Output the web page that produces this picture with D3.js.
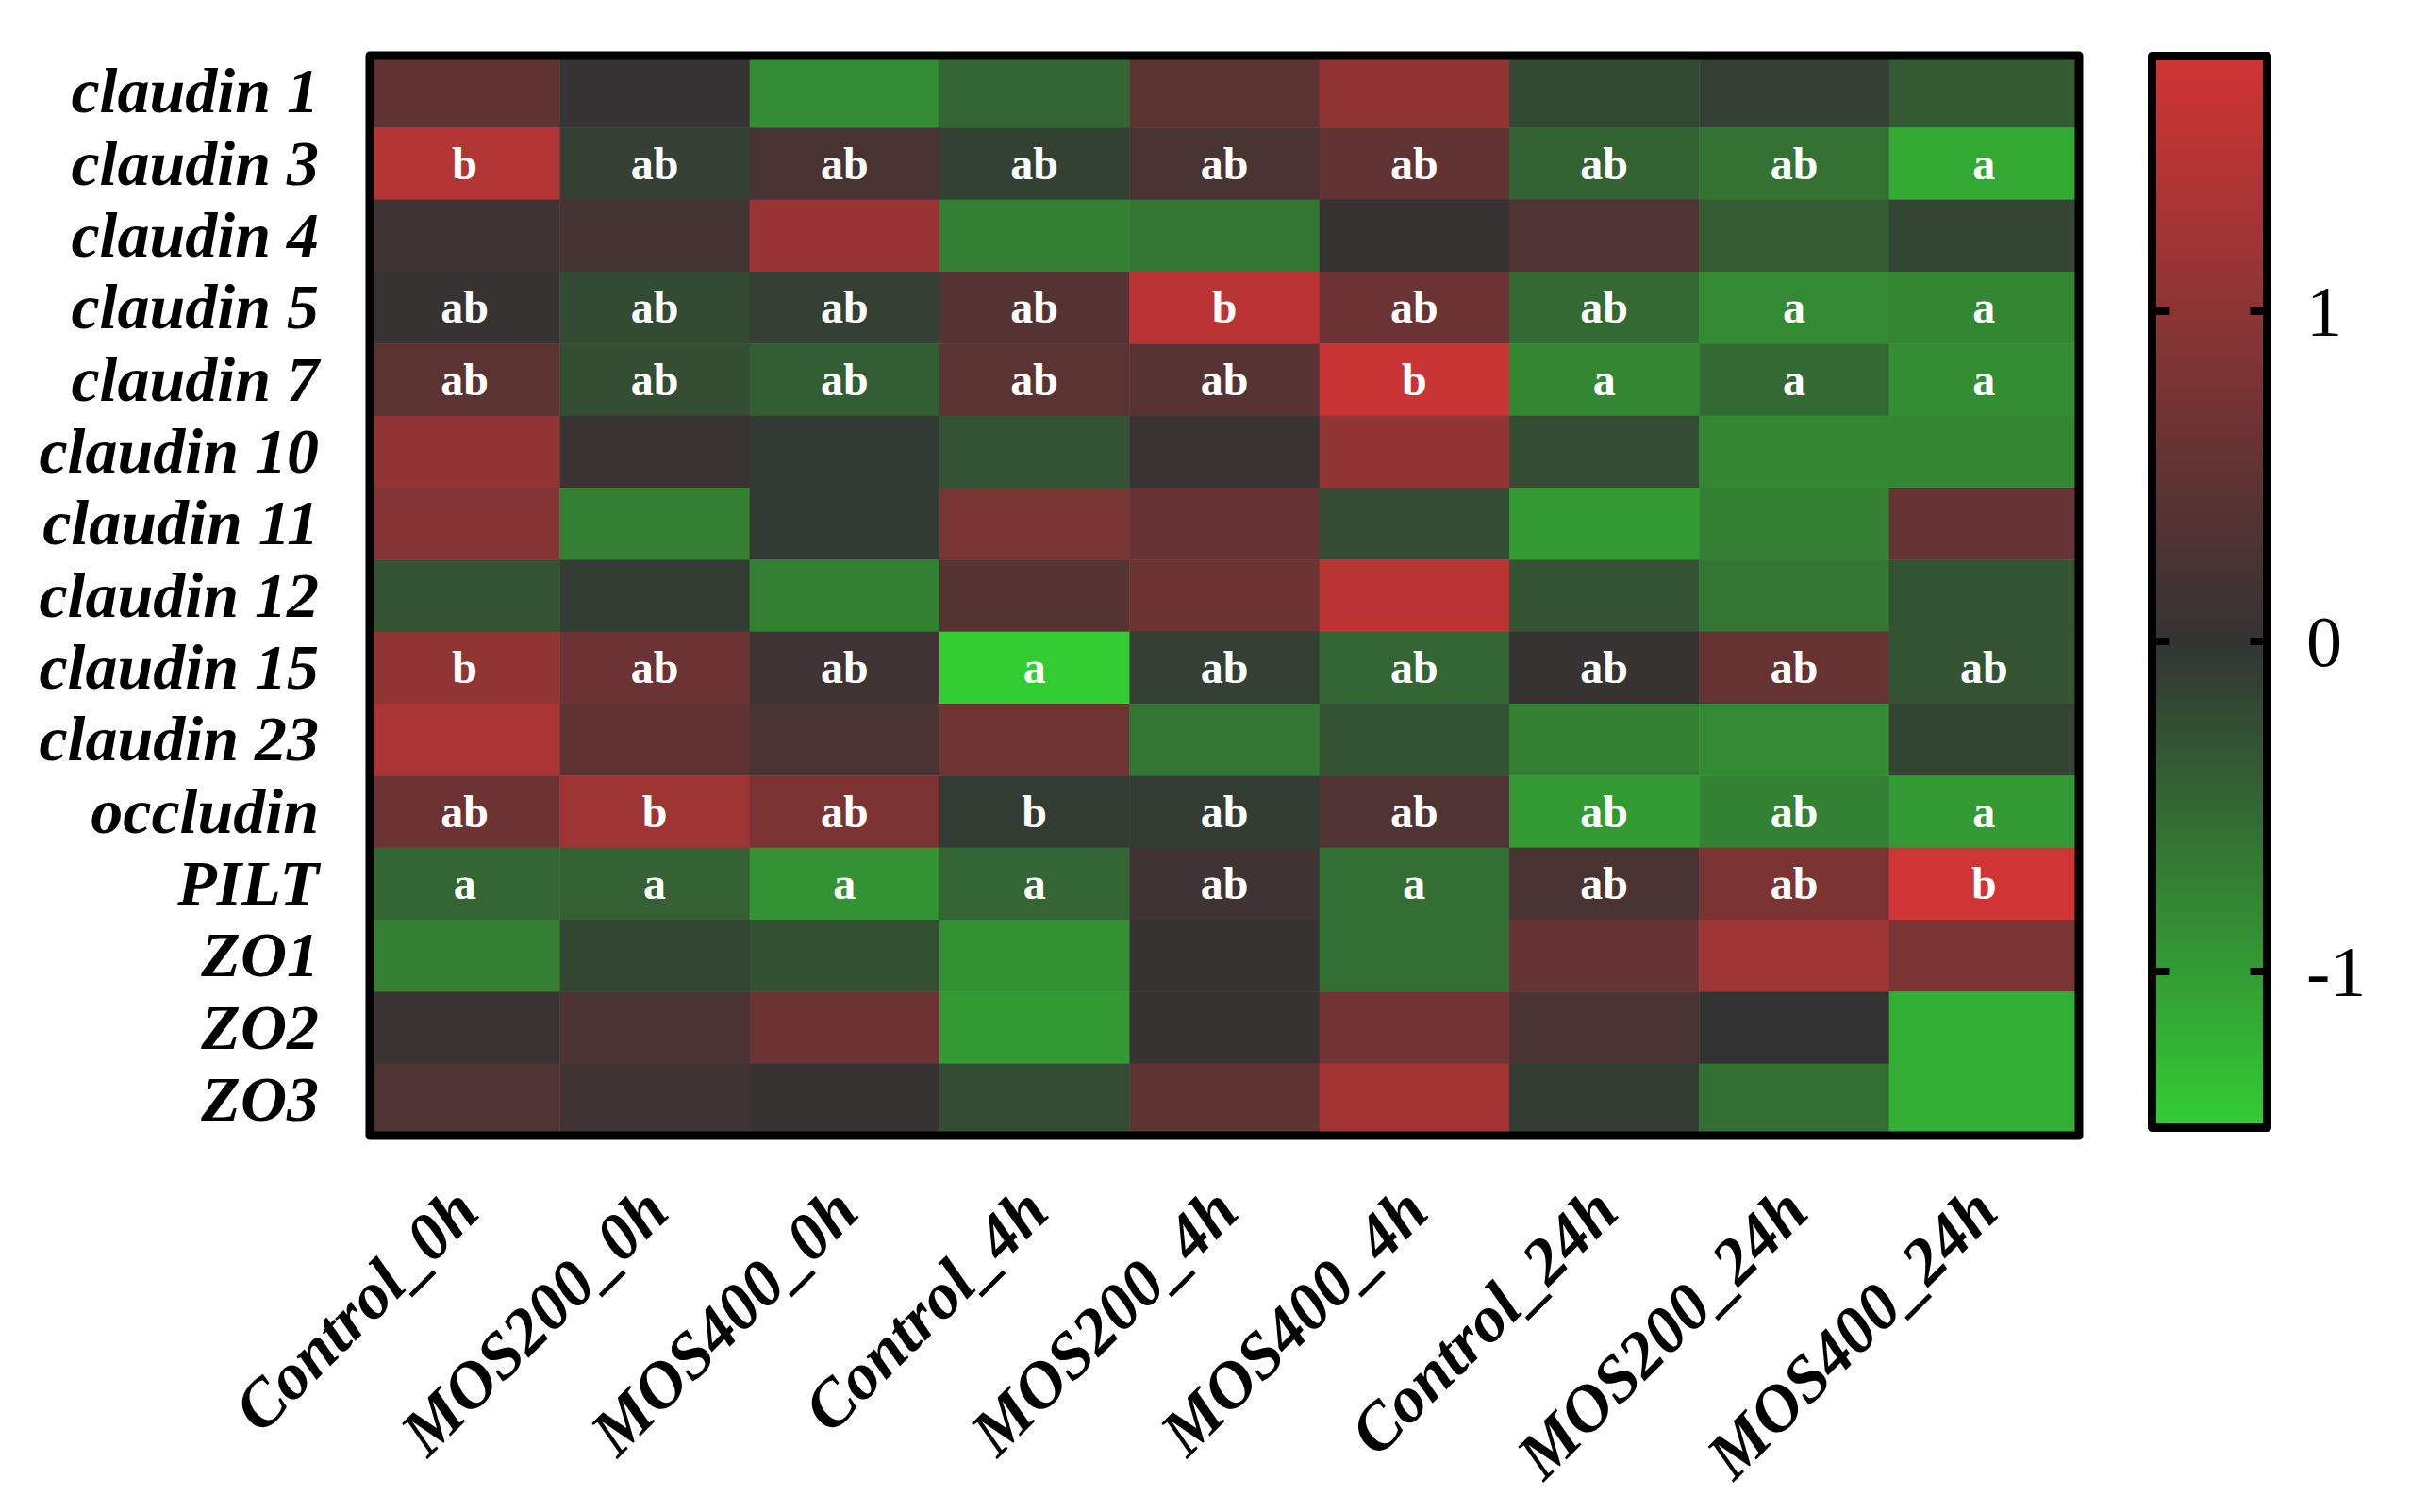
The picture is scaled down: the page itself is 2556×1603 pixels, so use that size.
<!DOCTYPE html>
<html lang="en">
<head>
<meta charset="UTF-8">
<title>Tight junction gene heatmap</title>
<style>
    body { margin: 0; background: #ffffff; }
    svg { display: block; }
    .row-label, .col-label {
        font-family: "Liberation Serif", "Times New Roman", serif;
        font-weight: bold;
        font-style: italic;
        fill: #000;
    }
    .cell-label {
        font-family: "Liberation Serif", "Times New Roman", serif;
        font-weight: bold;
        fill: #ffffff;
    }
    .bar-label {
        font-family: "Liberation Serif", "Times New Roman", serif;
        fill: #000;
    }
</style>
</head>
<body>
<svg id="chart" width="2556" height="1603"></svg>

<script src="https://cdn.jsdelivr.net/npm/d3@7"></script>
<script>
    // genes (rows) and groups (columns)
    const genes = ["claudin 1", "claudin 3", "claudin 4", "claudin 5", "claudin 7",
        "claudin 10", "claudin 11", "claudin 12", "claudin 15", "claudin 23",
        "occludin", "PILT", "ZO1", "ZO2", "ZO3"];
    const groups = ["Control_0h", "MOS200_0h", "MOS400_0h", "Control_4h", "MOS200_4h",
        "MOS400_4h", "Control_24h", "MOS200_24h", "MOS400_24h"];

    // z-scores, one list per gene
    const claudin1  = [0.49, 0.02, -0.85, -0.49, 0.45, 1.05, -0.20, -0.12, -0.37];
    const claudin3  = [1.44, -0.12, 0.24, -0.13, 0.26, 0.52, -0.45, -0.60, -1.12];
    const claudin4  = [0.13, 0.20, 1.16, -0.73, -0.63, 0.06, 0.33, -0.39, -0.17];
    const claudin5  = [0.06, -0.22, -0.12, 0.39, 1.53, 0.63, -0.52, -0.83, -0.80];
    const claudin7  = [0.45, -0.26, -0.41, 0.45, 0.42, 1.68, -0.80, -0.52, -0.86];
    const claudin10 = [1.05, 0.08, -0.06, -0.30, 0.08, 1.05, -0.24, -0.80, -0.80];
    const claudin11 = [0.91, -0.73, -0.06, 0.77, 0.56, -0.24, -0.98, -0.73, 0.56];
    const claudin12 = [-0.31, -0.09, -0.73, 0.37, 0.63, 1.53, -0.31, -0.63, -0.31];
    const claudin15 = [1.05, 0.63, 0.13, -1.46, -0.12, -0.49, 0.05, 0.57, -0.31];
    const claudin23 = [1.35, 0.49, 0.26, 0.66, -0.63, -0.31, -0.73, -0.83, -0.16];
    const occludin  = [0.63, 1.21, 0.82, -0.09, -0.09, 0.33, -0.98, -0.75, -0.98];
    const pilt      = [-0.49, -0.44, -0.91, -0.49, 0.14, -0.56, 0.26, 0.82, 1.76];
    const zo1       = [-0.73, -0.18, -0.28, -0.90, 0.06, -0.56, 0.56, 1.21, 0.77];
    const zo2       = [0.08, 0.27, 0.63, -0.98, 0.06, 0.69, 0.26, 0.00, -1.19];
    const zo3       = [0.33, 0.13, 0.06, -0.24, 0.47, 1.27, -0.09, -0.56, -1.19];
    const values = [claudin1, claudin3, claudin4, claudin5, claudin7, claudin10, claudin11,
        claudin12, claudin15, claudin23, occludin, pilt, zo1, zo2, zo3];

    // significance letters (only for some genes)
    const letters = {
        "claudin 3":  ["b", "ab", "ab", "ab", "ab", "ab", "ab", "ab", "a"],
        "claudin 5":  ["ab", "ab", "ab", "ab", "b", "ab", "ab", "a", "a"],
        "claudin 7":  ["ab", "ab", "ab", "ab", "ab", "b", "a", "a", "a"],
        "claudin 15": ["b", "ab", "ab", "a", "ab", "ab", "ab", "ab", "ab"],
        "occludin":   ["ab", "b", "ab", "b", "ab", "ab", "ab", "ab", "a"],
        "PILT":       ["a", "a", "a", "a", "ab", "a", "ab", "ab", "b"]
    };

    const barTicks = [-1, 0, 1];

    const svg = d3.select("#chart");

    const cells = [];
    genes.forEach((g, i) => {
        groups.forEach((c, j) => {
            cells.push({ gene: g, group: c, value: values[i][j],
                letter: letters[g] ? letters[g][j] : "" });
        });
    });

    const [vMin, vMax] = d3.extent(cells, d => d.value);

    const x = d3.scaleBand().domain(groups).range([392, 2204]);
    const y = d3.scaleBand().domain(genes).range([59, 1204]);
    const color = d3.scaleLinear()
        .domain([vMin, 0, vMax])
        .range(["#33cc33", "#333333", "#d03434"]);

    // heatmap cells
    svg.append("g")
        .selectAll("rect")
        .data(cells)
        .join("rect")
        .attr("x", d => x(d.group))
        .attr("y", d => y(d.gene))
        .attr("width", x.bandwidth() + 0.5)
        .attr("height", y.bandwidth() + 0.5)
        .attr("fill", d => color(d.value));

    // letters
    svg.append("g")
        .selectAll("text")
        .data(cells.filter(d => d.letter))
        .join("text")
        .attr("class", "cell-label")
        .attr("x", d => x(d.group) + x.bandwidth() / 2)
        .attr("y", d => y(d.gene) + y.bandwidth() / 2 + 16)
        .attr("text-anchor", "middle")
        .attr("font-size", 48)
        .text(d => d.letter);

    // frame
    svg.append("rect")
        .attr("x", 392).attr("y", 59)
        .attr("width", 1812).attr("height", 1145)
        .attr("fill", "none")
        .attr("stroke", "#000")
        .attr("stroke-width", 9)
        .attr("stroke-linejoin", "round");

    // row labels
    svg.append("g")
        .selectAll("text")
        .data(genes)
        .join("text")
        .attr("class", "row-label")
        .attr("x", 338)
        .attr("y", d => y(d) + y.bandwidth() / 2 + 22)
        .attr("text-anchor", "end")
        .attr("font-size", 68)
        .text(d => d);

    // column labels
    svg.append("g")
        .selectAll("text")
        .data(groups)
        .join("text")
        .attr("class", "col-label")
        .attr("transform", d => `translate(${x(d) + x.bandwidth() / 2 + 18},1288) rotate(-45)`)
        .attr("text-anchor", "end")
        .attr("font-size", 70)
        .text(d => d);

    // colour bar
    const barX = 2281.5, barW = 122, barTop = 59.5, barBottom = 1195.5;
    const cy = d3.scaleLinear().domain([vMin, vMax]).range([1191, 64]);

    const grad = svg.append("defs").append("linearGradient")
        .attr("id", "bar-grad")
        .attr("gradientUnits", "userSpaceOnUse")
        .attr("x1", 0).attr("y1", cy(vMin)).attr("x2", 0).attr("y2", cy(vMax));
    d3.range(0, 1.0001, 0.05).forEach(t => {
        grad.append("stop")
            .attr("offset", t)
            .attr("stop-color", color(vMin + t * (vMax - vMin)));
    });

    svg.append("rect")
        .attr("x", barX).attr("y", barTop)
        .attr("width", barW).attr("height", barBottom - barTop)
        .attr("fill", "url(#bar-grad)")
        .attr("stroke", "#000")
        .attr("stroke-width", 9)
        .attr("stroke-linejoin", "round");

    const tick = svg.append("g")
        .selectAll("g")
        .data(barTicks)
        .join("g")
        .attr("transform", d => `translate(0,${cy(d)})`);
    tick.append("line")
        .attr("x1", barX).attr("x2", barX + 18)
        .attr("stroke", "#000").attr("stroke-width", 8);
    tick.append("line")
        .attr("x1", barX + barW - 18).attr("x2", barX + barW)
        .attr("stroke", "#000").attr("stroke-width", 8);
    tick.append("text")
        .attr("class", "bar-label")
        .attr("x", 2445)
        .attr("y", 26)
        .attr("font-size", 76)
        .text(d => d);
</script>
</body>
</html>
